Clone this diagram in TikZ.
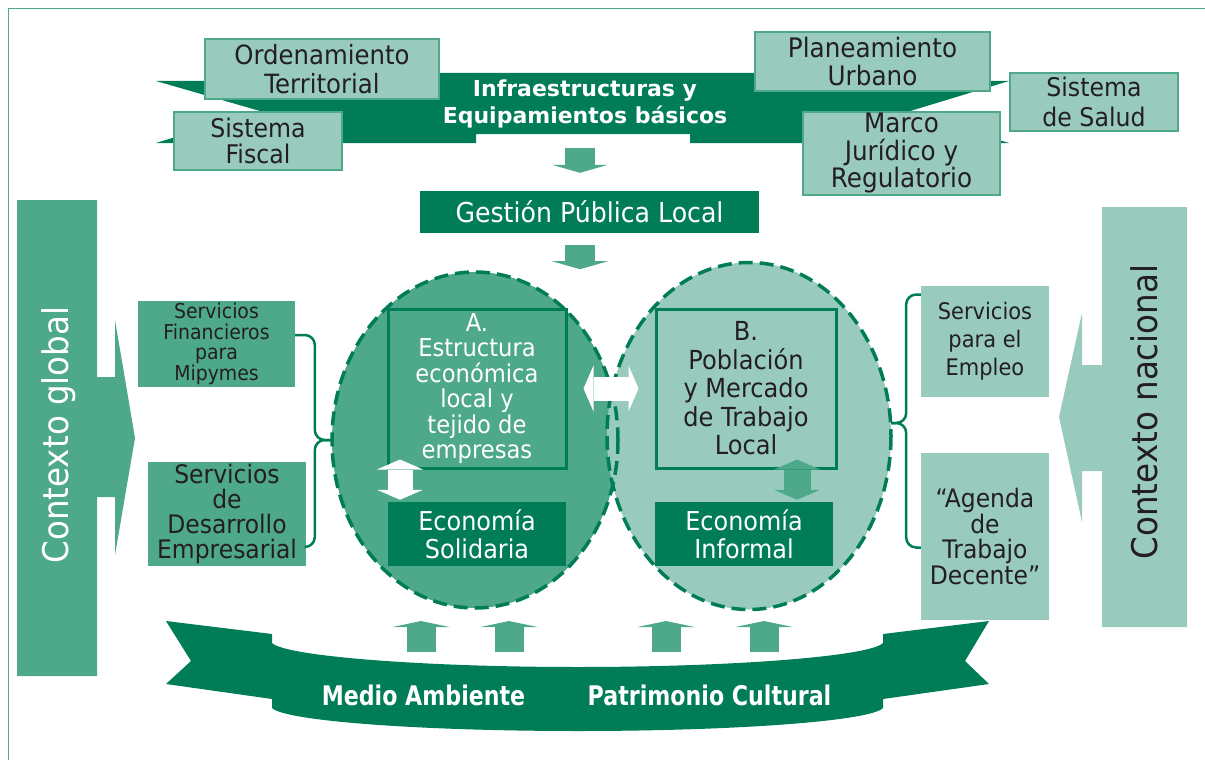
\documentclass[tikz,border=0pt]{standalone}
\usepackage{fontspec}
\setmainfont{DejaVu Sans}[FakeStretch=0.92]
\newfontfamily\bannerfont{DejaVu Sans}
\newfontfamily\ribbonfont[FakeStretch=0.82]{DejaVu Sans}
\usetikzlibrary{arrows.meta,shapes.geometric}

\definecolor{darkgreen}{HTML}{007D57}
\definecolor{midgreen}{HTML}{4EA88A}
\definecolor{lightgreen}{HTML}{98CBBE}
\definecolor{inkdark}{HTML}{231F20}

\begin{document}
\lineskiplimit=-50pt
\begin{tikzpicture}[x=1pt,y=-1pt,
    topbox/.style={draw=midgreen,line width=1.2pt,fill=lightgreen,text=inkdark,
      align=center,inner sep=0pt,font=\fontsize{26.5}{29}\selectfont},
    midbox/.style={fill=midgreen,text=inkdark,align=center,inner sep=0pt},
    litebox/.style={fill=lightgreen,text=inkdark,align=center,inner sep=0pt},
    darkbox/.style={fill=darkgreen,text=white,align=center,inner sep=0pt,
      font=\fontsize{26}{28}\selectfont},
    core/.style={draw=darkgreen,line width=3pt,align=center,inner sep=0pt,
      minimum width=178pt,minimum height=159pt},
    ring/.style={draw=darkgreen,line width=3.5pt,dash pattern=on 14pt off 7pt},
    brace/.style={draw=darkgreen,line width=2.5pt,rounded corners=10pt},
    downarr/.style={draw=midgreen,line width=30pt,
      -{Triangle[width=56pt,length=8pt,line width=0pt]}},
    uparr/.style={draw=midgreen,line width=29pt,
      -{Triangle[width=57pt,length=6pt,line width=0pt]}},
    twoway/.style={line width=24pt,
      {Triangle[width=46pt,length=10pt,line width=0pt]}-{Triangle[width=46pt,length=10pt,line width=0pt]}},
    sidetext/.style={rotate=90,anchor=base,font=\fontsize{35.4}{40}\selectfont},
    ribbontext/.style={anchor=base,text=white,font=\ribbonfont\bfseries\fontsize{27}{30}\selectfont}]
  \useasboundingbox (0,0) rectangle (1205,760);
  \draw[midgreen,line width=0.8pt] (8,760) -- (8,8) -- (1205,8);

  % top ribbon and its boxes
  \fill[darkgreen] (156,81) -- (260,111) -- (156,143) -- (476,143) -- (476,134)
    -- (690,134) -- (690,143) -- (1009,143) -- (907,112) -- (1009,81)
    -- (960,81) -- (960,73) -- (300,73) -- (300,81) -- cycle;
  \node[text=white,align=center,font=\bannerfont\bfseries\fontsize{22}{27}\selectfont]
    (infra) at (585,104) {Infraestructuras y\\Equipamientos básicos};
  \node[topbox,minimum width=234pt,minimum height=60pt] (ordT) at (322,69) {Ordenamiento\\Territorial};
  \node[topbox,minimum width=168pt,minimum height=58pt,font=\fontsize{25.7}{26}\selectfont]
    (fiscal) at (258,141) {Sistema\\Fiscal};
  \node[topbox,minimum width=235pt,minimum height=59pt,font=\fontsize{26.8}{28}\selectfont]
    (plan) at (872.5,61.5) {Planeamiento\\Urbano};
  \node[topbox,minimum width=168pt,minimum height=58pt,font=\fontsize{25.7}{30}\selectfont]
    (salud) at (1094,102) {Sistema\\de Salud};
  \node[topbox,minimum width=197pt,minimum height=83pt,font=\fontsize{26.8}{27.5}\selectfont]
    (marco) at (901.5,153.5) {Marco\\Jurídico y\\Regulatorio};

  \node[darkbox,minimum width=339pt,minimum height=42pt,font=\fontsize{27.4}{28}\selectfont]
    (gestion) at (589.5,212) {Gestión Pública Local};
  \coordinate (infraBot) at (580,134);
  \draw[downarr,shorten <=14pt,shorten >=18pt] (infraBot) -- (gestion.north -| infraBot);
  \draw[downarr,shorten <=12pt] (gestion.south -| infraBot) -- ++(0,36);

  % side contexts
  \fill[midgreen] (17,200) -- (97,200) -- (97,377) -- (115,377) -- (115,320) -- (135,438)
    -- (115,555) -- (115,497) -- (97,497) -- (97,676) -- (17,676) -- cycle;
  \node[sidetext,text=white] (global) at (68,435) {Contexto global};
  \fill[lightgreen] (1187,207) -- (1102,207) -- (1102,365) -- (1082,365) -- (1082,313)
    -- (1059,417) -- (1082,522) -- (1082,471) -- (1102,471) -- (1102,627) -- (1187,627) -- cycle;
  \node[sidetext,text=inkdark] (nacional) at (1157,412) {Contexto nacional};

  % services
  \node[midbox,minimum width=157pt,minimum height=86pt,font=\fontsize{20.5}{20.5}\selectfont]
    (fin) at (216.5,344) {Servicios\\Financieros\\para\\Mipymes};
  \node[midbox,minimum width=158pt,minimum height=104pt,font=\fontsize{25.5}{25}\selectfont]
    (desa) at (227,514) {Servicios\\de\\Desarrollo\\Empresarial};
  \node[litebox,minimum width=128pt,minimum height=111pt,font=\fontsize{22.8}{28}\selectfont]
    (empleo) at (985,341.5) {Servicios\\para el\\Empleo};
  \node[litebox,minimum width=128pt,minimum height=167pt,font=\fontsize{25.5}{25.5}\selectfont]
    (agenda) at (985,536.5) {“Agenda\\de\\Trabajo\\Decente”};

  % the two local spheres
  \node[ellipse,fill=midgreen,minimum width=286pt,minimum height=336pt,inner sep=0pt] (elA) at (475,440) {};
  \node[ellipse,fill=lightgreen,minimum width=284pt,minimum height=347pt,inner sep=0pt] (elB) at (749,436) {};
  \draw[ring] (elA.center) ellipse [x radius=143,y radius=168];
  \draw[ring] (elB.center) ellipse [x radius=142,y radius=173.5];

  \draw[brace] ([yshift=9pt]fin.east) -| ([xshift=-17pt]elA.west) -- (elA.west);
  \draw[brace] ([yshift=-33pt]desa.east) -| ([xshift=-17pt]elA.west) -- (elA.west);
  \draw[brace] ([yshift=47pt]empleo.west) -| ([xshift=15pt,yshift=13pt]elB.east) -- ([yshift=13pt]elB.east);
  \draw[brace] ([yshift=-11pt]agenda.west) -| ([xshift=15pt,yshift=13pt]elB.east) -- ([yshift=13pt]elB.east);

  \node[core,text=white,font=\fontsize{24.6}{25.4}\selectfont] (boxA) at (477,388.5)
    {A.\\Estructura\\económica\\local y\\tejido de\\empresas};
  \node[core,minimum width=180pt,text=inkdark,font=\fontsize{26.2}{28.5}\selectfont] (boxB) at (746,388.5)
    {B.\\Población\\y Mercado\\de Trabajo\\Local};
  \node[darkbox,minimum width=178pt,minimum height=64pt] (solid) at (477,534) {Economía\\Solidaria};
  \node[darkbox,minimum width=178pt,minimum height=64pt] (informal) at (744,534) {Economía\\Informal};

  \draw[twoway,white,shorten <=16pt,shorten >=16pt] (boxA.east) -- (boxB.west);
  \draw[twoway,white,line width=25pt,shorten <=-10pt,shorten >=2pt]
    ([xshift=-77pt]boxA.south) -- ([xshift=-77pt]solid.north);
  \draw[twoway,midgreen,line width=27pt,shorten <=-10pt,shorten >=2pt]
    ([xshift=51pt]boxB.south) -- ([xshift=53pt]informal.north);

  % bottom ribbon
  \fill[darkgreen] (272,643) .. controls (285,656) and (420,667) .. (578,667)
    .. controls (736,667) and (871,656) .. (883,643) -- (883,634) -- (989,621)
    -- (965,661) -- (989,684) -- (883,699) -- (883,708)
    .. controls (871,721) and (736,731) .. (578,731)
    .. controls (420,731) and (285,721) .. (272,708) -- (272,699) -- (166,684)
    -- (191,661) -- (166,621) -- (272,634) -- cycle;
  \node[ribbontext] (medio) at (423.5,705) {Medio Ambiente};
  \node[ribbontext] (patri) at (709.5,705) {Patrimonio Cultural};
  \foreach \ux in {421,509,666,764}
    \draw[uparr] (\ux,652) -- (\ux,621);
\end{tikzpicture}
\end{document}
